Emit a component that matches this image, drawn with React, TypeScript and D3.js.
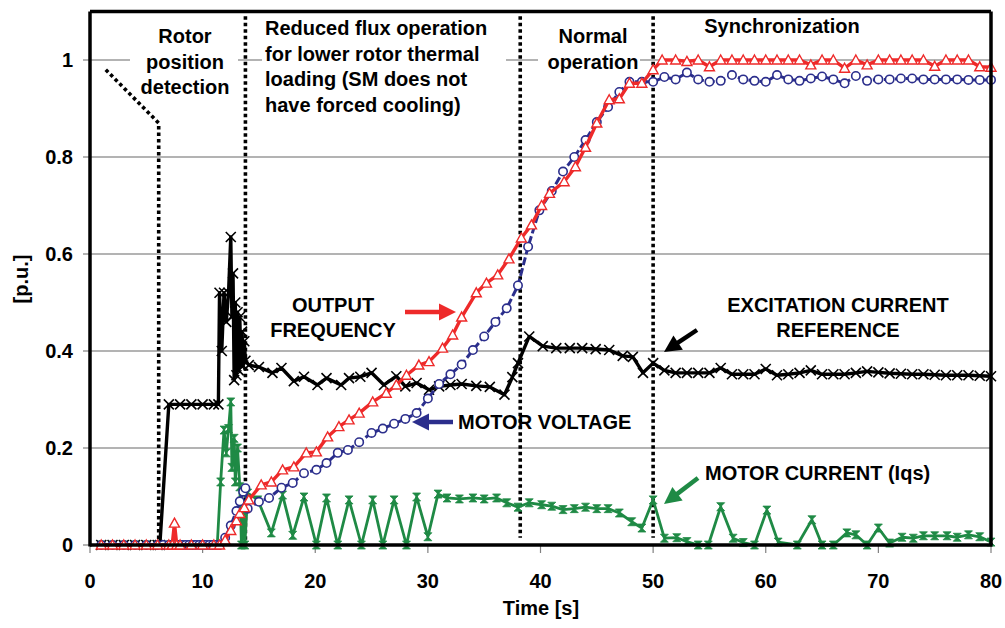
import React from "react";
import * as d3 from "d3";

// ---------- DATA ----------
const xTicks = [0, 10, 20, 30, 40, 50, 60, 70, 80];
const yTicks = [0, 0.2, 0.4, 0.6, 0.8, 1];
const yTickLabels = ["0", "0.2", "0.4", "0.6", "0.8", "1"];

// phase boundaries (s)
const phaseT = [6.1, 13.8, 38.2, 50];
const rotorDiagStart = [1.4, 0.98];
const rotorDiagCorner = 0.87;

// Excitation current reference (black, x markers)
const exT = [1, 2, 3, 4, 5, 6, 6.2, 7, 8, 9, 10, 11, 11.4, 11.5, 11.7, 11.9, 12.1, 12.3, 12.5, 12.6, 12.7, 12.8, 12.9, 13.0, 13.1, 13.2, 13.3, 13.4, 13.5, 13.6, 13.7, 13.8, 14.1, 15, 16.2, 17, 18.1, 19, 20.2, 21, 22.3, 23, 24, 25, 26.1, 27.2, 28, 29, 30.1, 31, 32, 33, 34.3, 35.5, 36.8, 37.5, 38, 39, 40.2, 41.4, 42.6, 43.7, 44.9, 46.1, 47.3, 48.2, 49.1, 50, 51, 52, 53, 54, 55, 56, 57, 58, 59, 60, 61, 62, 63, 64, 65, 66, 67, 68, 69, 70, 71, 72, 73, 74, 75, 76, 77, 78, 79, 80];
const exV = [0, 0, 0, 0, 0, 0, 0, 0.29, 0.29, 0.29, 0.29, 0.29, 0.29, 0.52, 0.4, 0.52, 0.46, 0.52, 0.635, 0.47, 0.56, 0.34, 0.5, 0.35, 0.48, 0.36, 0.47, 0.37, 0.44, 0.37, 0.42, 0.38, 0.371, 0.367, 0.355, 0.365, 0.338, 0.347, 0.33, 0.344, 0.33, 0.344, 0.347, 0.355, 0.33, 0.348, 0.327, 0.334, 0.32, 0.327, 0.33, 0.332, 0.328, 0.326, 0.31, 0.346, 0.375, 0.43, 0.41, 0.406, 0.406, 0.406, 0.404, 0.402, 0.39, 0.388, 0.355, 0.375, 0.36, 0.355, 0.355, 0.355, 0.355, 0.365, 0.352, 0.352, 0.352, 0.363, 0.35, 0.352, 0.355, 0.36, 0.352, 0.352, 0.352, 0.355, 0.358, 0.356, 0.354, 0.353, 0.352, 0.352, 0.351, 0.35, 0.35, 0.35, 0.349, 0.348];

// Output frequency (red, triangles)
const frT = [1, 2, 3, 4, 5, 6, 7, 7.3, 7.5, 7.7, 8, 9, 10, 11, 11.5, 12, 12.5, 13, 13.3, 13.7, 14.1, 15.2, 16.1, 17.1, 18.1, 19.2, 20.1, 21.1, 22.1, 23, 23.9, 25.1, 26.3, 27.2, 28.1, 29.2, 30.1, 31.3, 32.2, 33, 34.3, 35.2, 36.2, 37.2, 38.3, 39.2, 40.1, 40.8, 42.1, 43.1, 44, 45, 46.1, 47, 47.9, 49, 50, 50.8, 52, 53, 54, 55, 56, 57, 58, 59, 60, 61, 62, 63, 64, 65, 66, 67, 68, 69, 70, 71, 72, 73, 74, 75, 76, 77, 78, 79, 80];
const frV = [0, 0, 0, 0, 0, 0, 0, 0, 0.045, 0, 0, 0, 0, 0, 0, 0.01, 0.03, 0.05, 0.065, 0.077, 0.093, 0.124, 0.13, 0.155, 0.161, 0.19, 0.192, 0.223, 0.244, 0.258, 0.272, 0.295, 0.313, 0.33, 0.35, 0.371, 0.378, 0.406, 0.433, 0.47, 0.52, 0.54, 0.557, 0.59, 0.633, 0.66, 0.7, 0.725, 0.749, 0.78, 0.82, 0.87, 0.918, 0.92, 0.952, 0.952, 0.98, 1.0, 1.0, 0.997, 1.0, 0.986, 1.0, 1.0, 1.0, 1.0, 1.0, 1.0, 1.0, 1.0, 0.99, 1.0, 1.0, 0.983, 1.0, 0.99, 1.0, 1.0, 1.0, 1.0, 1.0, 0.987, 1.0, 1.0, 1.0, 0.986, 0.985];

// Motor voltage (blue, circles)
const mvT = [1, 2, 3, 4, 5, 6, 6.5, 7, 7.3, 7.6, 7.9, 8.2, 8.5, 8.8, 9.1, 9.4, 9.7, 10, 10.3, 10.6, 10.9, 11.2, 11.5, 12, 12.5, 13, 13.3, 13.6, 13.8, 14, 15, 15.9, 17, 18, 19, 20.1, 21, 22, 22.9, 23.9, 25, 26, 27, 28, 29, 30, 31, 32, 33, 34, 35, 36, 37, 38, 38.9, 39.9, 41, 42, 43, 44, 45, 46, 47, 47.9, 49, 50, 51, 52, 53, 54, 55, 56, 57, 58, 59, 60, 61, 62, 63, 64, 65, 66, 67, 68, 69, 70, 71, 72, 73, 74, 75, 76, 77, 78, 79, 80];
const mvV = [0, 0, 0, 0, 0, 0, 0, 0, 0, 0, 0, 0, 0, 0, 0, 0, 0, 0, 0, 0, 0, 0, 0, 0.015, 0.04, 0.07, 0.09, 0.11, 0.117, 0.075, 0.089, 0.097, 0.118, 0.128, 0.148, 0.155, 0.169, 0.19, 0.196, 0.212, 0.231, 0.24, 0.25, 0.26, 0.272, 0.302, 0.332, 0.352, 0.372, 0.402, 0.43, 0.46, 0.488, 0.535, 0.615, 0.69, 0.73, 0.77, 0.8, 0.835, 0.872, 0.903, 0.934, 0.955, 0.955, 0.955, 0.965, 0.96, 0.974, 0.96, 0.955, 0.957, 0.969, 0.96, 0.957, 0.955, 0.969, 0.96, 0.957, 0.962, 0.966, 0.96, 0.952, 0.967, 0.957, 0.96, 0.96, 0.962, 0.962, 0.96, 0.96, 0.96, 0.96, 0.959, 0.959, 0.959];

// Motor current Iqs (green)
const mcT = [1, 2, 3, 4, 5, 6, 7, 8, 9, 10, 11, 11.3, 11.6, 11.9, 12.1, 12.3, 12.5, 12.6, 12.8, 12.9, 13.1, 13.3, 13.45, 13.6, 13.75, 14, 14.9, 16.1, 17.1, 18, 19, 20.1, 21, 22, 23, 24.1, 25.1, 26, 27, 28.1, 29, 30, 30.9, 31.7, 32.8, 34, 35, 36.1, 37, 38, 39, 40.1, 41, 42, 43, 44, 45, 46, 47, 48.1, 49, 50, 51, 52.1, 53, 54, 54.9, 56, 57.1, 58, 59, 60.1, 61.1, 62.8, 64.1, 65, 66, 67.2, 68, 69, 70, 71, 72.1, 73.1, 74, 75, 76.1, 77, 78, 79, 80];
const mcV = [0, 0, 0, 0, 0, 0, 0, 0, 0, 0, 0, 0, 0.13, 0.237, 0.19, 0.24, 0.295, 0.16, 0.22, 0.13, 0.2, 0.12, 0, 0.07, 0, 0.107, 0.093, 0.025, 0.103, 0.02, 0.099, 0, 0.097, 0, 0.093, 0, 0.093, 0, 0.093, 0, 0.099, 0.017, 0.105, 0.097, 0.095, 0.097, 0.095, 0.097, 0.087, 0.078, 0.087, 0.083, 0.08, 0.073, 0.075, 0.078, 0.075, 0.075, 0.066, 0.048, 0.035, 0.093, 0.014, 0.015, 0.007, 0, 0, 0.079, 0.014, 0.005, 0, 0.072, 0.006, 0, 0.052, 0, 0, 0.025, 0.021, 0, 0.035, 0.004, 0.016, 0.014, 0.019, 0.019, 0.019, 0.016, 0.021, 0.017, 0.006];

// ---------- LAYOUT ----------
const W = 1005;
const H = 628;
const FONT = "'Liberation Sans', Arial, Helvetica, sans-serif";
const RED = "#EE2A2A";
const BLUE = "#2B2E8C";
const GREEN = "#1F8A45";

const x = d3.scaleLinear().domain([0, 80]).range([90, 991]);
const y = d3.scaleLinear().domain([0, 1.1]).range([545, 11.5]);

function zip(t: number[], v: number[]) {
  return t.map((tt, i) => [tt, v[i]] as [number, number]);
}

const line = d3
  .line<[number, number]>()
  .x((d) => x(d[0]))
  .y((d) => y(d[1]));

function Arrow({ x1, y1, x2, y2, color }: { x1: number; y1: number; x2: number; y2: number; color: string }) {
  const dx = x2 - x1;
  const dy = y2 - y1;
  const len = Math.hypot(dx, dy);
  const ux = dx / len;
  const uy = dy / len;
  const hl = 17;
  const hw = 8.5;
  const bx = x2 - ux * hl;
  const by = y2 - uy * hl;
  const px = -uy;
  const py = ux;
  return (
    <g>
      <line x1={x1} y1={y1} x2={bx + ux * 2} y2={by + uy * 2} stroke={color} strokeWidth={4.5} />
      <polygon
        points={`${x2},${y2} ${bx + px * hw},${by + py * hw} ${bx - px * hw},${by - py * hw}`}
        fill={color}
      />
    </g>
  );
}

export default function App() {
  const ex = zip(exT, exV);
  const fr = zip(frT, frV);
  const mv = zip(mvT, mvV);
  const mc = zip(mcT, mcV);

  const textStyle = { fontFamily: FONT, fontWeight: 700, fontSize: 20, fill: "#000" } as const;

  return (
    <svg
      width={W}
      height={H}
      style={{ position: "absolute", left: 0, top: 0, background: "#fff" }}
    >
      <rect x={0} y={0} width={W} height={H} fill="#fff" />
      {/* gridlines */}
      {yTicks.filter((v) => v > 0).map((v) => (
        <line key={"g" + v} x1={x(0)} x2={x(80)} y1={y(v)} y2={y(v)} stroke="#9a9a9a" strokeWidth={1.5} />
      ))}
      {/* y ticks */}
      {yTicks.map((v) => (
        <line key={"yt" + v} x1={83} x2={x(0)} y1={y(v)} y2={y(v)} stroke="#808080" strokeWidth={1.2} />
      ))}
      {/* x ticks */}
      {xTicks.map((v) => (
        <line key={"xt" + v} x1={x(v)} x2={x(v)} y1={y(0)} y2={y(0) + 8} stroke="#808080" strokeWidth={1.2} />
      ))}

      {/* white boxes behind phase annotations */}
      <rect x={130} y={18} width={108} height={84} fill="#fff" />
      <rect x={262} y={15} width={244} height={103} fill="#fff" />
      <rect x={538} y={20} width={102} height={56} fill="#fff" />

      {/* phase texts */}
      <g style={textStyle} textAnchor="middle">
        <text x={185} y={43}>Rotor</text>
        <text x={185} y={69}>position</text>
        <text x={185} y={94}>detection</text>
      </g>
      <g style={textStyle}>
        <text x={265} y={35}>Reduced flux operation</text>
        <text x={265} y={61}>for lower rotor thermal</text>
        <text x={265} y={86}>loading (SM does not</text>
        <text x={265} y={112}>have forced cooling)</text>
      </g>
      <g style={textStyle} textAnchor="middle">
        <text x={593} y={43}>Normal</text>
        <text x={593} y={69}>operation</text>
        <text x={782} y={33}>Synchronization</text>
      </g>

      {/* dotted phase boundaries */}
      <path
        d={`M${x(rotorDiagStart[0])},${y(rotorDiagStart[1])} L${x(phaseT[0])},${y(rotorDiagCorner)} L${x(phaseT[0])},${y(0)}`}
        fill="none"
        stroke="#000"
        strokeWidth={3.6}
        strokeDasharray="3.5,3"
      />
      {phaseT.slice(1).map((t, i) => (
        <line
          key={"ph" + t}
          x1={x(t)}
          x2={x(t)}
          y1={y(1.09)}
          y2={i === 0 ? y(0) : y(0.015)}
          stroke="#000"
          strokeWidth={3.6}
          strokeDasharray="3.5,3"
        />
      ))}

      {/* Motor current */}
      <path d={line(mc) || ""} fill="none" stroke={GREEN} strokeWidth={2.8} strokeLinejoin="round" />
      {mc.map((d, i) => (
        <path
          key={"mc" + i}
          transform={`translate(${x(d[0])},${y(d[1])})`}
          d="M-4,-4 H4 L-4,4 H4 Z"
          fill={GREEN}
          stroke={GREEN}
          strokeWidth={0.8}
        />
      ))}

      {/* Excitation current reference */}
      <path d={line(ex) || ""} fill="none" stroke="#000" strokeWidth={3.4} strokeLinejoin="round" />
      {ex.map((d, i) => (
        <path
          key={"ex" + i}
          transform={`translate(${x(d[0])},${y(d[1])})`}
          d="M-5,-5 L5,5 M-5,5 L5,-5"
          stroke="#000"
          strokeWidth={1.6}
        />
      ))}

      {/* Motor voltage */}
      <path
        d={line(mv) || ""}
        fill="none"
        stroke={BLUE}
        strokeWidth={3}
        strokeDasharray="8,3"
      />
      {mv.map((d, i) => (
        <circle key={"mv" + i} cx={x(d[0])} cy={y(d[1])} r={4.2} fill="#fff" stroke={BLUE} strokeWidth={1.6} />
      ))}

      {/* Output frequency */}
      <path d={line(fr) || ""} fill="none" stroke={RED} strokeWidth={3.4} strokeLinejoin="round" />
      {fr.map((d, i) => (
        <path
          key={"fr" + i}
          transform={`translate(${x(d[0])},${y(d[1])})`}
          d="M0,-5 L5,4 L-5,4 Z"
          fill="#fff"
          stroke={RED}
          strokeWidth={1.4}
        />
      ))}

      {/* frame */}
      <line x1={x(0)} x2={x(80)} y1={y(1.1)} y2={y(1.1)} stroke="#000" strokeWidth={3.5} />
      <line x1={x(80)} x2={x(80)} y1={y(1.1)} y2={y(0)} stroke="#000" strokeWidth={3.5} />
      <line x1={x(0)} x2={x(0)} y1={y(1.1)} y2={y(0) + 1.5} stroke="#000" strokeWidth={3.5} />
      <line x1={x(0)} x2={x(80) + 1.5} y1={y(0)} y2={y(0)} stroke="#000" strokeWidth={3.5} />

      {/* tick labels */}
      <g style={textStyle} textAnchor="end">
        {yTicks.map((v, i) => (
          <text key={"yl" + v} x={73} y={y(v) + 7}>
            {yTickLabels[i]}
          </text>
        ))}
      </g>
      <g style={textStyle} textAnchor="middle">
        {xTicks.map((v) => (
          <text key={"xl" + v} x={x(v)} y={588}>
            {v}
          </text>
        ))}
        <text x={541} y={615}>Time [s]</text>
      </g>
      <text
        style={textStyle}
        textAnchor="middle"
        transform="translate(28,279) rotate(-90)"
      >
        [p.u.]
      </text>

      {/* series labels & arrows */}
      <g style={textStyle} textAnchor="middle">
        <text x={333} y={312}>OUTPUT</text>
        <text x={333} y={337}>FREQUENCY</text>
        <text x={838} y={312}>EXCITATION CURRENT</text>
        <text x={838} y={337}>REFERENCE</text>
      </g>
      <g style={textStyle}>
        <text x={458} y={429}>MOTOR VOLTAGE</text>
        <text x={705} y={480}>MOTOR CURRENT (Iqs)</text>
      </g>
      <Arrow x1={405} y1={312} x2={456} y2={312} color={RED} />
      <Arrow x1={453} y1={422} x2={412} y2={422} color={BLUE} />
      <Arrow x1={697} y1={330} x2={664} y2={352} color="#000" />
      <Arrow x1={698} y1={478} x2={664} y2={504} color={GREEN} />
    </svg>
  );
}
